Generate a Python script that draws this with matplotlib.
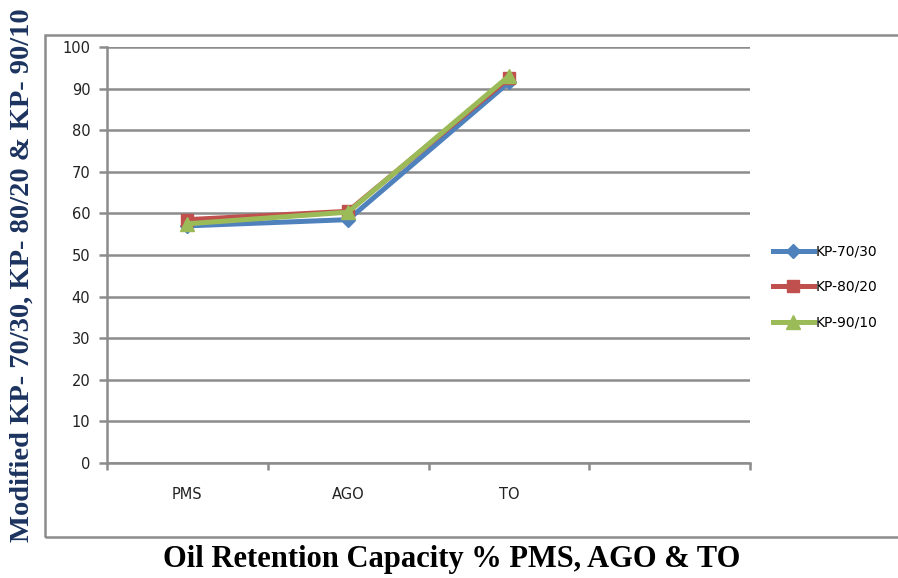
import matplotlib
matplotlib.use("Agg")
import matplotlib.pyplot as plt
from matplotlib.patches import Rectangle

# Oil retention capacity (%) of the three modified KP blends
categories = ["PMS", "AGO", "TO", ""]
kp_70_30 = [57.0, 58.5, 91.5]
kp_80_20 = [58.5, 60.5, 92.5]
kp_90_10 = [57.5, 60.3, 93.0]
yticks = list(range(0, 101, 10))

grey = "#8c8c8c"
tick_font = "DejaVu Sans"

fig = plt.figure(figsize=(8.98, 5.78), dpi=100)
fig.patches.append(Rectangle((45 / 898, 41 / 578), 0.99, 502 / 578,
                             transform=fig.transFigure, fill=False,
                             edgecolor=grey, linewidth=1.8))

ax = fig.add_axes([107 / 898, 115 / 578, 643 / 898, 416 / 578])

x = list(range(len(kp_70_30)))
ax.plot(x, kp_70_30, color="#4F81BD", lw=3.6, marker="D", ms=7.5,
        label="KP-70/30", zorder=3)
ax.plot(x, kp_80_20, color="#C0504D", lw=3.6, marker="s", ms=8.5,
        label="KP-80/20", zorder=4)
ax.plot(x, kp_90_10, color="#9BBB59", lw=3.6, marker="^", ms=9.5,
        label="KP-90/10", zorder=5)

ax.set_xlim(-0.5, len(categories) - 0.5)
ax.set_ylim(0, 100)
ax.set_yticks(yticks)
ax.set_xticks(range(len(categories)))
ax.set_xticklabels(categories)
ax.set_xticks([i - 0.5 for i in range(len(categories) + 1)], minor=True)

ax.grid(axis="y", color=grey, lw=1.8)
ax.set_axisbelow(True)
for side in ["top", "right"]:
    ax.spines[side].set_visible(False)
for side in ["left", "bottom"]:
    ax.spines[side].set_color(grey)
    ax.spines[side].set_linewidth(1.8)

ax.tick_params(axis="y", direction="out", length=6, width=1.8, color=grey,
               pad=6, labelsize=10.5, labelcolor="#222222")
ax.tick_params(axis="x", which="major", length=0, pad=17, labelsize=10.5,
               labelcolor="#222222")
ax.tick_params(axis="x", which="minor", direction="out", length=5, width=1.8,
               color=grey)
for lab in ax.get_xticklabels() + ax.get_yticklabels():
    lab.set_family(tick_font)

ax.legend(loc="center left", bbox_to_anchor=(760 / 898, 1 - 287 / 578),
          bbox_transform=fig.transFigure, frameon=False, handlelength=3.0,
          handletextpad=0.1, labelspacing=1.55,
          prop={"family": tick_font, "size": 10})

fig.text(22 / 898, 1 - 275 / 578, "Modified KP- 70/30, KP- 80/20 & KP- 90/10",
         rotation=90, ha="center", va="center", fontsize=20.5,
         fontweight="bold", family="Liberation Serif", color="#1B335E")
fig.text(452 / 898, 1 - 560 / 578, "Oil Retention Capacity % PMS, AGO & TO",
         ha="center", va="center", fontsize=22, fontweight="bold",
         family="Liberation Serif", color="black")

fig.savefig("out.png", dpi=100)
